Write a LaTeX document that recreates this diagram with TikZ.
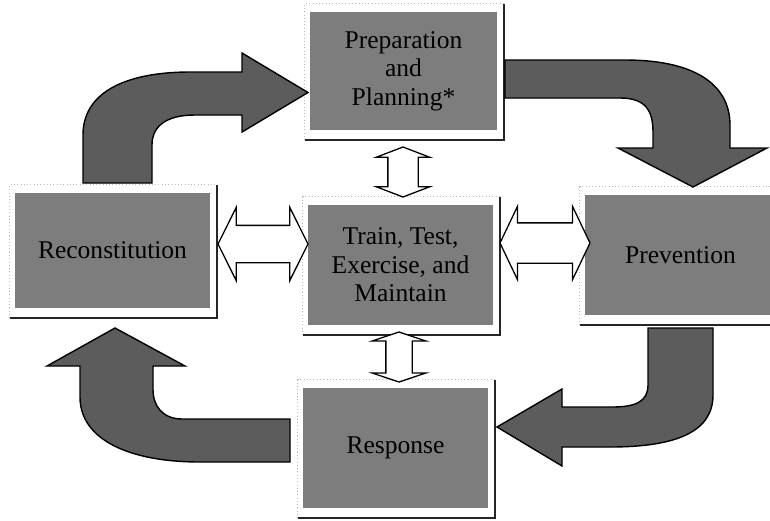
\documentclass[tikz,border=0pt]{standalone}
\usepackage{fontspec}
\setmainfont{Liberation Serif}
\usetikzlibrary{shapes.arrows, calc}
\definecolor{BoxGray}{RGB}{125,125,125}
\definecolor{ArrowGray}{RGB}{92,92,92}
\tikzstyle{phase} = [fill=BoxGray, inner sep=0pt, align=center, font=\fontsize{21.8}{24.3}\selectfont]
\tikzstyle{bigarrow} = [fill=ArrowGray, draw=black, line width=1.2pt, line join=miter]
\tikzstyle{hollow} = [double arrow, draw=black, line width=1.1pt, fill=white, inner xsep=0pt, minimum width=0pt]
\tikzstyle{rim} = [black!85, line width=1.8pt]
\tikzstyle{rimlit} = [gray!55, dotted, line width=0.8pt]

\begin{document}
\begin{tikzpicture}[x=0.03cm, y=-0.03cm]
\useasboundingbox (0,0) rectangle (770,520);

\node[phase, minimum width=5.61cm, minimum height=3.54cm] (prep) at (403.5,71) {Preparation\\and\\Planning*};
\node[phase, minimum width=5.55cm, minimum height=3.6cm] (train) at (400.5,265) {Train, Test,\\Exercise, and\\Maintain};
\node[phase, minimum width=5.85cm, minimum height=3.45cm] (recon) at (112.5,250.5) {Reconstitution};
\node[phase, minimum width=5.73cm, minimum height=3.6cm] (prev) at (680.5,255) {Prevention};
\node[phase, minimum width=5.55cm, minimum height=3.6cm] (resp) at (395.5,448) {Response};

\foreach \n in {prep,train,recon,prev,resp}{
  \draw[rimlit] ([shift={(-5,10)}]\n.south west) -- ([shift={(-5,-8)}]\n.north west) -- ([shift={(7,-8)}]\n.north east);
  \draw[rim] ([shift={(7,-8)}]\n.north east) -- ([shift={(7,10)}]\n.south east) -- ([shift={(-5,10)}]\n.south west);
}

\draw[bigarrow] (83,183) -- (83,135) .. controls (83,90) and (130,72) .. (190,72) -- (242,72) -- (242,53) -- (308,92.5) -- (242,132) -- (242,115) -- (195,115) .. controls (168,115) and (152,125) .. (152,145) -- (152,183) -- cycle;
\draw[bigarrow] (505,60) -- (625,60) .. controls (700,60) and (730,88) .. (730,125) -- (730,148) -- (767,148) -- (693,187) -- (618,148) -- (653,148) -- (653,132) .. controls (653,110) and (645,98) .. (620,98) -- (505,98) -- cycle;
\draw[bigarrow] (648,328) -- (648,385) .. controls (648,402) and (635,407) .. (612,407) -- (562,407) -- (562,389) -- (497,427) -- (562,466) -- (562,447) -- (610,447) .. controls (680,447) and (713,430) .. (713,395) -- (713,328) -- cycle;
\draw[bigarrow] (290,419) -- (182,419) .. controls (162,419) and (153,405) .. (153,390) -- (153,366) -- (185,366) -- (115,328) -- (47,366) -- (80,366) -- (80,397) .. controls (80,440) and (130,462) .. (200,462) -- (290,462) -- cycle;

\node[hollow, inner ysep=0.435cm, double arrow head extend=0.345cm, double arrow tip angle=138, minimum height=1.5cm, rotate=90] (upper) at (403,172) {};
\node[hollow, inner ysep=0.54cm, double arrow head extend=0.54cm, double arrow tip angle=127, minimum height=2.7cm] (left) at (263,244) {};
\node[hollow, inner ysep=0.585cm, double arrow head extend=0.495cm, double arrow tip angle=129, minimum height=2.7cm] (right) at (545,243) {};
\node[hollow, inner ysep=0.375cm, double arrow head extend=0.405cm, double arrow tip angle=143, minimum height=1.5cm, rotate=90] (lower) at (399,357) {};
\end{tikzpicture}
\end{document}
